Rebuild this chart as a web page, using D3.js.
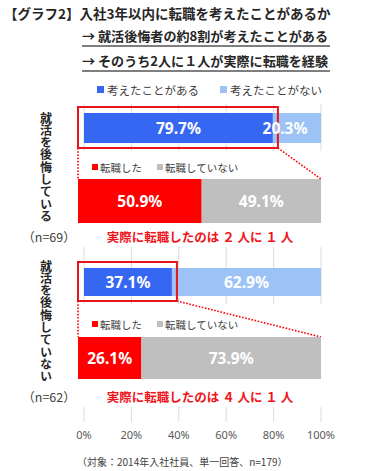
<!DOCTYPE html>
<html>
<head>
<meta charset="utf-8">
<script src="https://cdn.jsdelivr.net/npm/d3@7"></script>
<style>
  body{ margin:0; background:#fff; }
  svg{ display:block; }
</style>
</head>
<body>
<div id="chart"></div>
<script>
// Data.
const groups = [ '就活を後悔している', '就活を後悔していない' ];
const n_labels = [ '（n=69）', '（n=62）' ];
const considered = [ 79.7, 37.1 ];
const not_considered = [ 20.3, 62.9 ];
const changed = [ 50.9, 26.1 ];
const not_changed = [ 49.1, 73.9 ];
const summaries = [ '実際に転職したのは ２ 人に １ 人', '実際に転職したのは ４ 人に １ 人' ];
const tick_values = [ 0, 20, 40, 60, 80, 100 ];
const legend_top = [ '考えたことがある', '考えたことがない' ];
const legend_sub = [ '転職した', '転職していない' ];

const W = 371, H = 471;
const JP = '"Noto Sans CJK JP", "Noto Sans", sans-serif';
const NUM = '"Noto Sans", "DejaVu Sans", sans-serif';
const colors = { blue: '#3567f2', light: '#9dc3f6', red: '#ff0000', gray: '#bfbfbf', grid: '#dcdcdc' };

// Vertical positions of each group's pieces (top of the upper bar etc.)
const layout = [
  { bar: 113, bar_h: 30, legend: 168, sub: 179, sub_h: 44, note: 237, label_top: 112 },
  { bar: 268, bar_h: 28, legend: 325, sub: 337, sub_h: 42, note: 397, label_top: 260 }
];

const svg = d3.select( '#chart' ).append( 'svg' )
  .attr( 'width', W ).attr( 'height', H );

// Scales: upper bars and the gridline axis share one scale, the sub bars are a bit wider.
const x = d3.scaleLinear().domain( [0, 100] ).range( [84, 321] );
const x_sub = d3.scaleLinear().domain( [0, 100] ).range( [78, 321] );

// Title lines.
svg.append( 'text' ).attr( 'x', 4 ).attr( 'y', 19 )
  .attr( 'font-family', JP ).attr( 'font-weight', 'bold' ).attr( 'font-size', 13.5 ).attr( 'fill', '#262626' )
  .text( '【グラフ2】入社3年以内に転職を考えたことがあるか' );
const subtitles = [ '→ 就活後悔者の約8割が考えたことがある', '→ そのうち2人に１人が実際に転職を経験' ];
subtitles.forEach( function( s, i ){
  const y = 41 + i * 25;
  svg.append( 'text' ).attr( 'x', 82 ).attr( 'y', y )
    .attr( 'font-family', JP ).attr( 'font-weight', 'bold' ).attr( 'font-size', 13 ).attr( 'fill', '#262626' )
    .attr( 'textLength', 246 ).attr( 'lengthAdjust', 'spacingAndGlyphs' )
    .text( s );
  svg.append( 'line' ).attr( 'x1', 82 ).attr( 'x2', 330 ).attr( 'y1', y + 5 ).attr( 'y2', y + 5 )
    .attr( 'stroke', '#000' ).attr( 'stroke-width', 1.2 );
} );

// Legend for the upper bars.
const legend_x = [ 97, 220 ];
legend_top.forEach( function( d, i ){
  svg.append( 'rect' ).attr( 'x', legend_x[i] ).attr( 'y', 86 ).attr( 'width', 7 ).attr( 'height', 7 )
    .attr( 'fill', i == 0 ? colors.blue : colors.light );
  svg.append( 'text' ).attr( 'x', legend_x[i] + 10 ).attr( 'y', 94.5 )
    .attr( 'font-family', JP ).attr( 'font-size', 11.5 ).attr( 'fill', '#404040' )
    .text( d );
} );

// Gridlines across the whole plot.
svg.append( 'g' ).selectAll( 'line' ).data( tick_values ).enter().append( 'line' )
  .attr( 'x1', function( d ){ return x( d ) } ).attr( 'x2', function( d ){ return x( d ) } )
  .attr( 'y1', 104 ).attr( 'y2', 422 )
  .attr( 'stroke', colors.grid ).attr( 'stroke-width', 1 );

// Axis tick labels.
svg.append( 'g' ).selectAll( 'text' ).data( tick_values ).enter().append( 'text' )
  .attr( 'x', function( d ){ return x( d ) } ).attr( 'y', 439 )
  .attr( 'text-anchor', 'middle' )
  .attr( 'font-family', NUM ).attr( 'font-size', 11 ).attr( 'fill', '#595959' )
  .text( function( d ){ return d + '%' } );

function bar_label( cx, cy, v ){
  svg.append( 'text' ).attr( 'x', cx ).attr( 'y', cy + 5.5 )
    .attr( 'text-anchor', 'middle' ).attr( 'font-family', NUM ).attr( 'font-weight', 'bold' )
    .attr( 'font-size', 15.5 ).attr( 'fill', '#fff' )
    .text( v.toFixed( 1 ) + '%' );
}

groups.forEach( function( g, i ){
  const L = layout[i];

  // White panel hiding the gridlines behind the sub chart.
  svg.append( 'rect' ).attr( 'x', 70 ).attr( 'y', L.bar + L.bar_h + 8 )
    .attr( 'width', 270 ).attr( 'height', L.note + 10 - ( L.bar + L.bar_h + 8 ) )
    .attr( 'fill', '#fff' );

  // Upper stacked bar.
  svg.append( 'rect' ).attr( 'x', x( 0 ) ).attr( 'y', L.bar )
    .attr( 'width', x( considered[i] ) - x( 0 ) ).attr( 'height', L.bar_h ).attr( 'fill', colors.blue );
  svg.append( 'rect' ).attr( 'x', x( considered[i] ) ).attr( 'y', L.bar )
    .attr( 'width', x( considered[i] + not_considered[i] ) - x( considered[i] ) ).attr( 'height', L.bar_h )
    .attr( 'fill', colors.light );

  // Red box around the "considered" part.
  const box = { x0: x( 0 ) - 6, x1: x( considered[i] ) + 5, y0: L.bar - 6, y1: L.bar + L.bar_h + 5 };

  // Dotted lines down to the sub bar.
  svg.append( 'line' ).attr( 'x1', box.x0 ).attr( 'y1', box.y1 ).attr( 'x2', x_sub( 0 ) ).attr( 'y2', L.sub )
    .attr( 'stroke', colors.red ).attr( 'stroke-width', 1.6 ).attr( 'stroke-dasharray', '1.6,1.6' );
  svg.append( 'line' ).attr( 'x1', box.x1 ).attr( 'y1', box.y1 ).attr( 'x2', x_sub( 100 ) ).attr( 'y2', L.sub )
    .attr( 'stroke', colors.red ).attr( 'stroke-width', 1.6 ).attr( 'stroke-dasharray', '1.6,1.6' );

  svg.append( 'rect' ).attr( 'x', box.x0 ).attr( 'y', box.y0 )
    .attr( 'width', box.x1 - box.x0 ).attr( 'height', box.y1 - box.y0 )
    .attr( 'fill', 'none' ).attr( 'stroke', '#e8141c' ).attr( 'stroke-width', 2 );

  // Labels on the upper bar (the right one is kept clear of the chart edge).
  bar_label( ( x( 0 ) + x( considered[i] ) ) / 2, L.bar + L.bar_h / 2, considered[i] );
  bar_label( Math.min( ( x( considered[i] ) + x( 100 ) ) / 2, x( 100 ) - 36 ), L.bar + L.bar_h / 2, not_considered[i] );

  // Sub legend.
  const sub_x = [ 92, 157 ];
  legend_sub.forEach( function( d, j ){
    svg.append( 'rect' ).attr( 'x', sub_x[j] ).attr( 'y', L.legend - 4 ).attr( 'width', 6 ).attr( 'height', 6 )
      .attr( 'fill', j == 0 ? colors.red : colors.gray );
    svg.append( 'text' ).attr( 'x', sub_x[j] + 8 ).attr( 'y', L.legend + 3.5 )
      .attr( 'font-family', JP ).attr( 'font-size', 10.5 ).attr( 'fill', '#404040' )
      .text( d );
  } );

  // Sub stacked bar.
  svg.append( 'rect' ).attr( 'x', x_sub( 0 ) ).attr( 'y', L.sub )
    .attr( 'width', x_sub( changed[i] ) - x_sub( 0 ) ).attr( 'height', L.sub_h ).attr( 'fill', colors.red );
  svg.append( 'rect' ).attr( 'x', x_sub( changed[i] ) ).attr( 'y', L.sub )
    .attr( 'width', x_sub( changed[i] + not_changed[i] ) - x_sub( changed[i] ) ).attr( 'height', L.sub_h )
    .attr( 'fill', colors.gray );
  bar_label( ( x_sub( 0 ) + x_sub( changed[i] ) ) / 2, L.sub + L.sub_h / 2, changed[i] );
  bar_label( ( x_sub( changed[i] ) + x_sub( 100 ) ) / 2, L.sub + L.sub_h / 2, not_changed[i] );

  // Red summary note.
  svg.append( 'text' ).attr( 'x', 200 ).attr( 'y', L.note + 4.5 )
    .attr( 'text-anchor', 'middle' ).attr( 'font-family', JP ).attr( 'font-weight', 'bold' )
    .attr( 'font-size', 12.5 ).attr( 'fill', '#f0141c' )
    .text( summaries[i] );

  // Vertical group label.
  svg.append( 'text' ).attr( 'x', 46 ).attr( 'y', L.label_top )
    .attr( 'writing-mode', 'vertical-rl' ).style( 'text-orientation', 'upright' )
    .attr( 'letter-spacing', 0.3 )
    .attr( 'font-family', JP ).attr( 'font-weight', 'bold' )
    .attr( 'font-size', 12 ).attr( 'fill', '#262626' )
    .text( g );
  svg.append( 'text' ).attr( 'x', 49 ).attr( 'y', L.note + 4.5 )
    .attr( 'text-anchor', 'middle' ).attr( 'font-family', JP ).attr( 'font-size', 12.5 ).attr( 'fill', '#404040' )
    .text( n_labels[i] );
} );

// Footer.
svg.append( 'text' ).attr( 'x', 77 ).attr( 'y', 466 )
  .attr( 'font-family', JP ).attr( 'font-size', 10 ).attr( 'fill', '#404040' )
  .text( '（対象：2014年入社社員、単一回答、n=179）' );
</script>
</body>
</html>
